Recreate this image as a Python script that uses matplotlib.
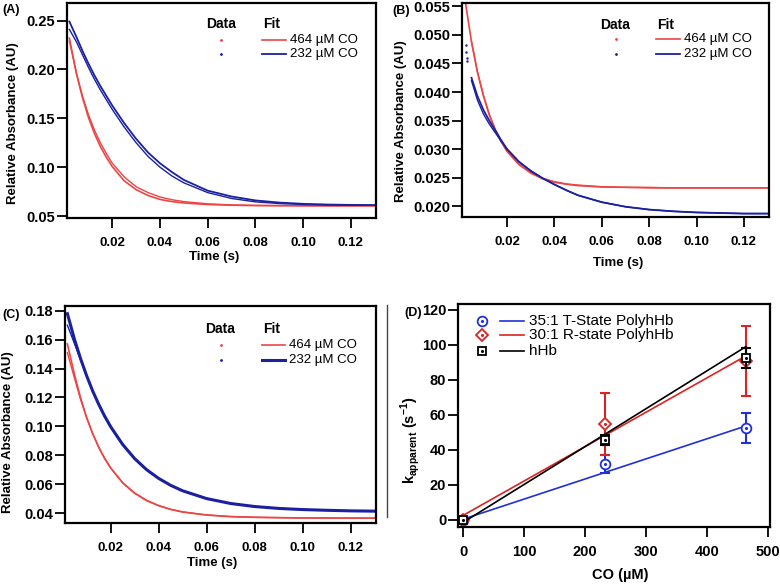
import matplotlib
matplotlib.use("Agg")
import matplotlib.pyplot as plt
from matplotlib.lines import Line2D

plt.rcParams["font.family"] = "Liberation Sans"
plt.rcParams["mathtext.fontset"] = "custom"
plt.rcParams["mathtext.rm"] = "Liberation Sans"
plt.rcParams["mathtext.bf"] = "Liberation Sans:bold"

# time grid (s)
t = [0.002, 0.005, 0.0075, 0.01, 0.0125, 0.015, 0.0175, 0.02, 0.025, 0.03, 0.035,
     0.04, 0.045, 0.05, 0.06, 0.07, 0.08, 0.09, 0.10, 0.11, 0.12, 0.13]

# panel A
a_red_fit = [0.232, 0.1954, 0.171, 0.1509, 0.1345, 0.1211, 0.1101, 0.1005, 0.086, 0.077, 0.071,
             0.067, 0.0648, 0.0634, 0.0618, 0.0611, 0.0607, 0.0606, 0.0605, 0.0605, 0.0605, 0.0605]
a_red_data = [0.229, 0.1955, 0.1727, 0.1537, 0.138, 0.1249, 0.114, 0.104, 0.090, 0.080, 0.074,
              0.0695, 0.0667, 0.0648, 0.0625, 0.0614, 0.0609, 0.0607, 0.0606, 0.0605, 0.0605, 0.0605]
a_blue_fit = [0.249, 0.233, 0.219, 0.206, 0.194, 0.183, 0.173, 0.163, 0.145, 0.129, 0.115,
              0.104, 0.095, 0.087, 0.076, 0.070, 0.066, 0.0638, 0.0625, 0.0618, 0.0614, 0.0612]
a_blue_data = [0.241, 0.228, 0.215, 0.202, 0.190, 0.179, 0.169, 0.159, 0.141, 0.125, 0.111,
               0.100, 0.091, 0.084, 0.074, 0.068, 0.0645, 0.0628, 0.0618, 0.0613, 0.0611, 0.061]

# panel B
nan = float("nan")
b_red_fit = [0.0569, 0.0488, 0.0435, 0.0394, 0.0360, 0.0334, 0.0313, 0.0296, 0.0273, 0.0258, 0.0248,
             0.0242, 0.02385, 0.0236, 0.02336, 0.0233, 0.0232, 0.0232, 0.0232, 0.0232, 0.0232, 0.0232]
b_red_data = [nan, 0.0489, 0.0436, 0.0395, 0.0361, 0.0335, 0.0314, 0.0297, 0.0274, 0.0259, 0.0249,
              0.0243, 0.0239, 0.0237, 0.0234, 0.0233, 0.0233, 0.0232, 0.0232, 0.0232, 0.0232, 0.0232]
b_blue_fit = [nan, 0.0425, 0.0393, 0.0369, 0.0350, 0.0333, 0.0316, 0.0300, 0.0278, 0.0262, 0.0249,
              0.0238, 0.0228, 0.0219, 0.0207, 0.0199, 0.0194, 0.0191, 0.0189, 0.0188, 0.0187, 0.0187]
b_blue_data = [nan, 0.0420, 0.0386, 0.0362, 0.0344, 0.0329, 0.0314, 0.0300, 0.0278, 0.0262, 0.0249,
               0.0238, 0.0228, 0.0219, 0.0207, 0.0199, 0.0194, 0.0191, 0.0189, 0.0188, 0.0187, 0.0187]
b_blue_first_t = [0.0026, 0.0027, 0.0029, 0.003]
b_blue_first = [0.0483, 0.0471, 0.0460, 0.0455]

# panel C
c_red_fit = [0.157, 0.1355, 0.1196, 0.1063, 0.0951, 0.0857, 0.0778, 0.0712, 0.0609, 0.0537, 0.0486,
             0.0451, 0.0425, 0.0407, 0.0386, 0.0375, 0.0370, 0.0368, 0.0366, 0.0365, 0.0365, 0.0365]
c_red_data = [0.151, 0.133, 0.1185, 0.1060, 0.0950, 0.0858, 0.0780, 0.0714, 0.0611, 0.0539, 0.0488,
              0.0452, 0.0426, 0.0408, 0.0387, 0.0376, 0.0371, 0.0368, 0.0366, 0.0366, 0.0365, 0.0365]
c_blue_fit = [0.178, 0.1599, 0.1468, 0.1351, 0.1246, 0.1154, 0.1071, 0.0998, 0.0875, 0.0777, 0.0700,
              0.0640, 0.0592, 0.0554, 0.0500, 0.0466, 0.0445, 0.0432, 0.0424, 0.0419, 0.0415, 0.0413]
c_blue_data = [0.170, 0.157, 0.146, 0.1350, 0.1250, 0.1158, 0.1075, 0.1002, 0.0878, 0.0779, 0.0702,
               0.0641, 0.0593, 0.0555, 0.0501, 0.0467, 0.0446, 0.0433, 0.0425, 0.0419, 0.0416, 0.0414]

series_labels = ["464 \u00b5M CO", "232 \u00b5M CO"]

# panel D
co = [0, 232, 464]
t_state = [0, 32, 52.5]
t_state_err = [0, 5, 8.5]
r_state = [0, 55, 91]
r_state_err = [0, 17.7, 20]
hhb = [0, 45.7, 92.5]
hhb_err = [0, 3, 5.7]
fit_co = [0, 464]
t_state_fit = [0.5, 53.7]
r_state_fit = [2.7, 93.7]
hhb_fit = [-1.3, 99]
d_labels = ["35:1 T-State PolyhHb", "30:1 R-state PolyhHb", "hHb"]

RED = "#ee4444"
BLUE = "#1a20a0"

W, H = 780, 584
fig = plt.figure(figsize=(7.8, 5.84), dpi=100)


def add_axes(left, top, right, bottom):
    return fig.add_axes([left / W, 1 - bottom / H, (right - left) / W, (bottom - top) / H])


def style(ax, xsize=9.5, ysize=10.5, xpad=7):
    for s in ax.spines.values():
        s.set_linewidth(1.6)
    ax.tick_params(direction="out", length=7, width=1.3)
    ax.tick_params(axis="x", pad=xpad, labelsize=xsize)
    ax.tick_params(axis="y", pad=1.5, labelsize=ysize)
    for lab in ax.get_xticklabels() + ax.get_yticklabels():
        lab.set_fontweight("bold")


def kin_legend(ax, xd, xl0, xl1, xt, yh, ys, fit_lw):
    tr = ax.transAxes
    ax.text(xd, yh, "Data", transform=tr, ha="center", va="center", fontweight="bold", fontsize=10)
    ax.text(xl0 + 0.004, yh, "Fit", transform=tr, ha="left", va="center", fontweight="bold", fontsize=10)
    for y, lab, col, lw in zip(ys, series_labels, [RED, BLUE], fit_lw):
        ax.plot([xd], [y], ".", ms=2, color=col, transform=tr)
        ax.plot([xl0, xl1], [y, y], color=col, lw=lw, transform=tr)
        ax.text(xt, y, lab, transform=tr, ha="left", va="center", fontsize=9.5)


def kin_panel(ax, red_d, red_f, blue_d, blue_f, ylim, yticks, fmt, blue_lw=1.3):
    ax.plot(t, red_d, color=RED, lw=1.0)
    ax.plot(t, red_f, color=RED, lw=1.2)
    ax.plot(t, blue_d, color=BLUE, lw=1.0)
    ax.plot(t, blue_f, color=BLUE, lw=blue_lw)
    ax.set_xlim(0.001, 0.1306)
    ax.set_ylim(*ylim)
    ax.set_xticks([0.02, 0.04, 0.06, 0.08, 0.10, 0.12])
    ax.set_xticklabels(["0.02", "0.04", "0.06", "0.08", "0.10", "0.12"])
    ax.set_yticks(yticks)
    ax.set_yticklabels([fmt % v for v in yticks])
    ax.set_xlabel("Time (s)", fontweight="bold", fontsize=9.5, va="center")
    ax.set_ylabel("Relative Absorbance (AU)", fontweight="bold", fontsize=9.5, va="center")
    style(ax)


# (A)
axA = add_axes(67, 3, 376, 218)
kin_panel(axA, a_red_data, a_red_fit, a_blue_data, a_blue_fit, (0.048, 0.268),
          [0.05, 0.10, 0.15, 0.20, 0.25], "%.2f")
axA.xaxis.set_label_coords(0.476, -0.181)
axA.yaxis.set_label_coords(-0.175, 0.44)
kin_legend(axA, 0.497, 0.630, 0.709, 0.722, 0.902, [0.828, 0.763], [1.2, 1.3])

# (B)
axB = add_axes(462, 3, 769, 217)
kin_panel(axB, b_red_data, b_red_fit, b_blue_data, b_blue_fit, (0.0181, 0.0556),
          [0.020, 0.025, 0.030, 0.035, 0.040, 0.045, 0.050, 0.055], "%.3f")
axB.plot(b_blue_first_t, b_blue_first, ".", color=BLUE, ms=1.5)
axB.xaxis.set_label_coords(0.507, -0.214)
axB.yaxis.set_label_coords(-0.20, 0.447)
kin_legend(axB, 0.500, 0.632, 0.710, 0.724, 0.899, [0.832, 0.763], [1.2, 1.3])

# (C)
axC = add_axes(65, 306, 376, 523)
kin_panel(axC, c_red_data, c_red_fit, c_blue_data, c_blue_fit, (0.0331, 0.1833),
          [0.04, 0.06, 0.08, 0.10, 0.12, 0.14, 0.16, 0.18], "%.2f", blue_lw=2.2)
axC.xaxis.set_label_coords(0.472, -0.185)
axC.yaxis.set_label_coords(-0.182, 0.42)
kin_legend(axC, 0.500, 0.632, 0.707, 0.721, 0.892, [0.820, 0.751], [1.2, 2.2])

# (D)
DBLUE, DRED = "#2030d8", "#dd2222"
axD = add_axes(458, 304, 770, 527)
groups = [(t_state, t_state_err, t_state_fit, DBLUE, "o", 7),
          (r_state, r_state_err, r_state_fit, DRED, "D", 6.5),
          (hhb, hhb_err, hhb_fit, "black", "s", 6)]
for vals, err, fit, col, mk, ms in groups:
    axD.plot(fit_co, fit, color=col, lw=1.2)
    axD.errorbar(co, vals, yerr=err, fmt="none", ecolor=col, elinewidth=1.5, capsize=3.5, capthick=1.5)
    axD.plot(co, vals, mk, mfc="white", mec=col, mew=1.3, ms=ms, ls="none")
    axD.plot(co, vals, ".", color=col, ms=2.5, ls="none")
axD.set_xlim(-8.7, 503.8)
axD.set_ylim(-4, 123.4)
axD.set_xticks([0, 100, 200, 300, 400, 500])
axD.set_yticks([0, 20, 40, 60, 80, 100, 120])
axD.set_xlabel("CO (\u00b5M)", fontweight="bold", fontsize=10.5, va="center")
axD.set_ylabel(r"k$_{\mathbf{apparent}}$ (s$^{\mathbf{-1}}$)", fontweight="bold", fontsize=10.5, va="center")
axD.xaxis.set_label_coords(0.519, -0.215)
axD.yaxis.set_label_coords(-0.154, 0.39)
style(axD, xsize=10.5, ysize=10.5, xpad=6)
trD = axD.transAxes
for y, (vals, err, fit, col, mk, ms), lab in zip([0.925, 0.861, 0.791], groups, d_labels):
    axD.plot([0.076], [y], mk, mfc="white", mec=col, mew=1.3, ms=ms, transform=trD)
    axD.plot([0.076], [y], ".", color=col, ms=2.5, transform=trD)
    axD.plot([0.135, 0.210], [y, y], color=col, lw=1.2, transform=trD)
    axD.text(0.226, y, lab, transform=trD, ha="left", va="center", fontsize=11)

# panel letters
for x, y, lab in [(2, 10, "(A)"), (392, 11, "(B)"), (2, 315, "(C)"), (404, 313, "(D)")]:
    fig.text(x / W, 1 - y / H, lab, ha="left", va="center", fontweight="bold", fontsize=9)

# stray vertical rule right of panel C
fig.add_artist(Line2D([387 / W, 387 / W], [1 - 305 / H, 1 - 517 / H], color="#444444", lw=1))

fig.savefig("out.png", dpi=100)
